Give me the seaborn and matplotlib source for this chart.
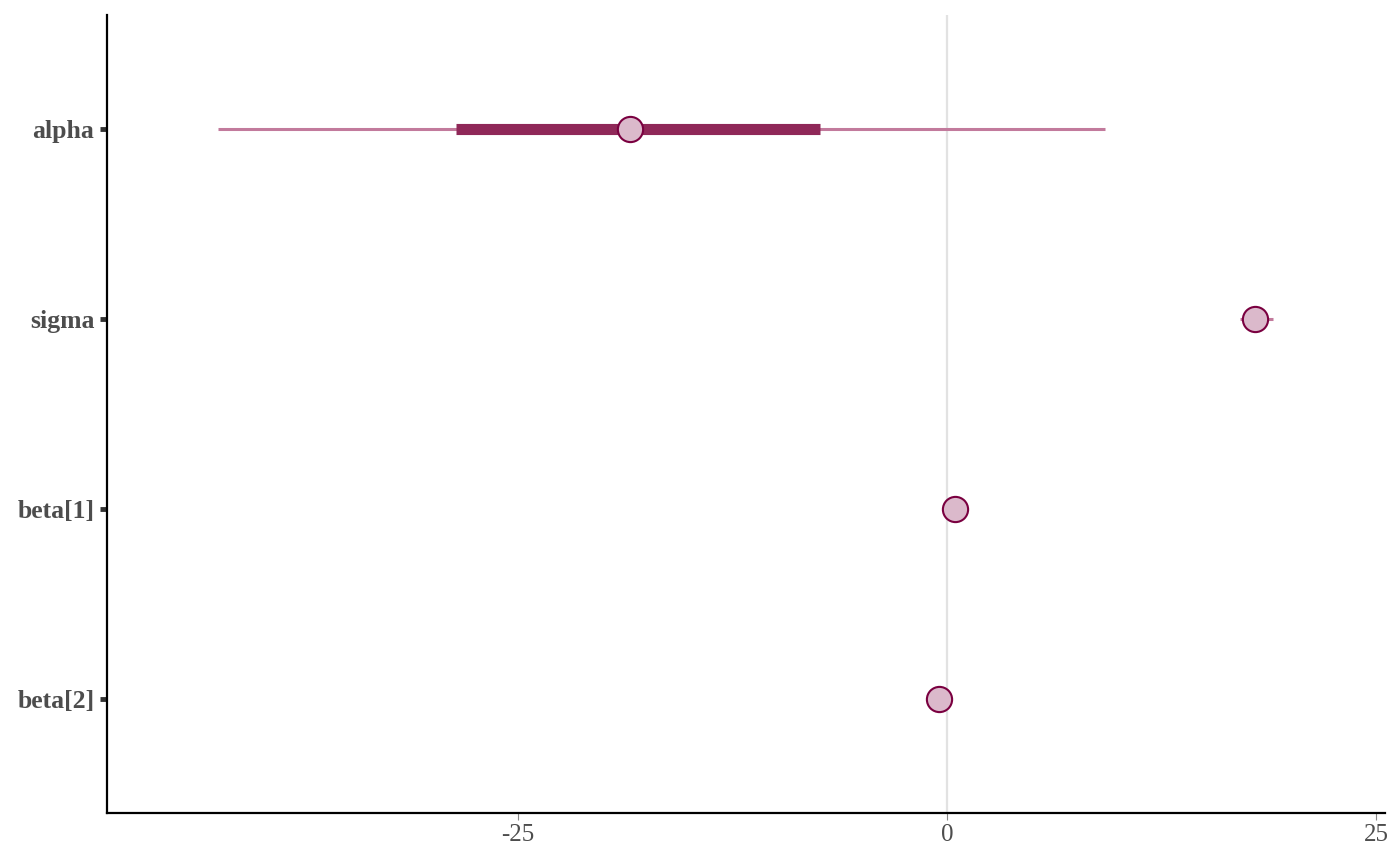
import matplotlib
matplotlib.use("Agg")
import matplotlib.pyplot as plt
import seaborn as sns
import pandas as pd
import numpy as np

params = ["alpha", "sigma", "beta[1]", "beta[2]"]
ll = [-42.5, 17.1, 0.47, -0.47]
l = [-28.6, 17.6, 0.47, -0.47]
m = [-18.5, 17.97, 0.47, -0.47]
h = [-7.4, 18.3, 0.47, -0.47]
hh = [9.2, 19.0, 0.47, -0.47]
xticks = [-25, 0, 25]

df = pd.DataFrame({"parameter": params, "ll": ll, "l": l, "m": m, "h": h, "hh": hh})
df["pos"] = np.arange(len(params))[::-1] + 1

sns.set_theme(style="white")
plt.rcParams["font.family"] = ["Liberation Serif", "DejaVu Serif"]

fig = plt.figure(figsize=(14, 8.66), dpi=100)
ax = fig.add_axes([0.0764, 0.0612, 0.9126, 0.9215])

ax.axvline(0, color="#e2e2e2", lw=1.6, zorder=0)
ax.hlines(df["pos"], df["ll"], df["hh"], color="#c27a9c", lw=2.2, zorder=1)
ax.hlines(df["pos"], df["l"], df["h"], color="#8f2858", lw=8, zorder=2)
sns.scatterplot(data=df, x="m", y="pos", ax=ax, s=330, color="#dbb9cb",
                edgecolor="#7a0040", linewidth=1.5, zorder=3, legend=False)

ax.set_xlim(-48.95, 25.5)
ax.set_ylim(0.4, 4.6)
ax.set_xticks(xticks)
ax.set_xticklabels([str(t) for t in xticks], fontsize=18, color="#4d4d4d")
ax.set_yticks(df["pos"])
ax.set_yticklabels(df["parameter"], fontsize=18.5, fontweight="bold", color="#4d4d4d")
ax.set_xlabel("")
ax.set_ylabel("")

for s in ["top", "right"]:
    ax.spines[s].set_visible(False)
for s in ["left", "bottom"]:
    ax.spines[s].set_color("black")
    ax.spines[s].set_linewidth(1.6)

ax.tick_params(axis="y", length=5, width=3.5, color="#333333", pad=4, left=True)
ax.tick_params(axis="x", length=5, width=0.8, color="#888888", pad=3, bottom=True)

fig.savefig("out.png", dpi=100)
